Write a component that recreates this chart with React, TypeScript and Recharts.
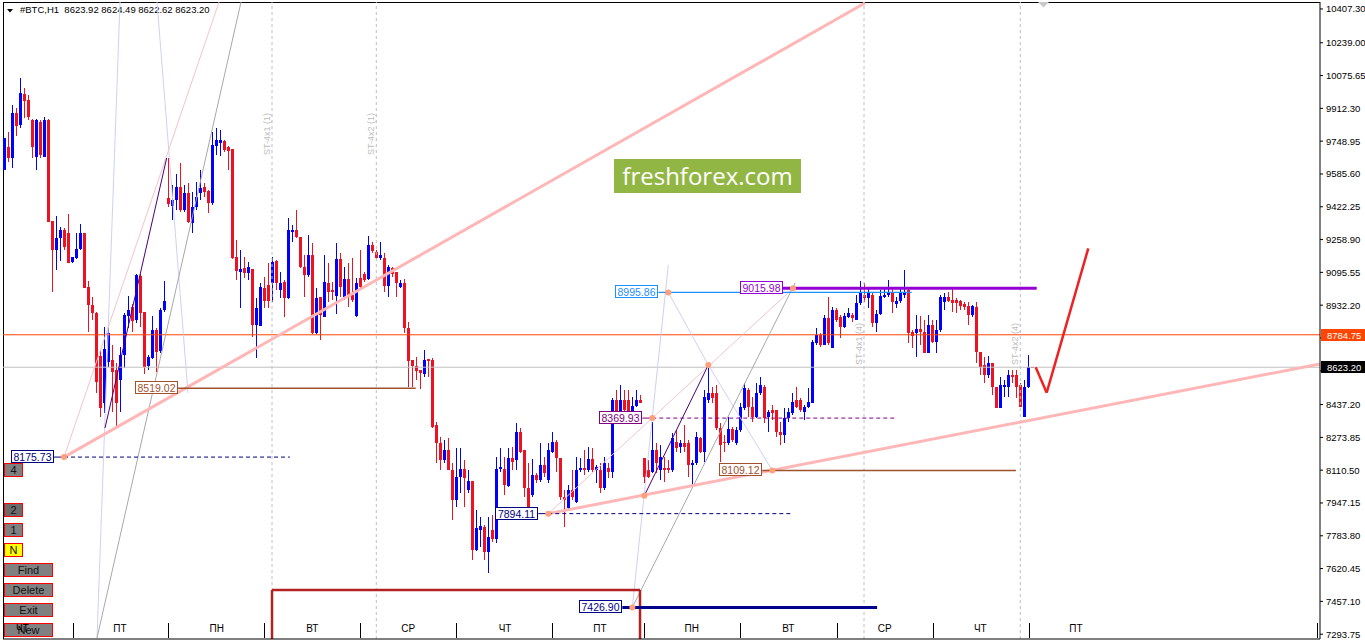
import React from 'react';
import { ComposedChart, Bar, XAxis, YAxis, ReferenceLine, ReferenceDot } from 'recharts';

const FONT = '"Liberation Sans", Arial, sans-serif';
const W = 1365;
const H = 641;
const BLUE = '#0000FF';
const RED = '#EE1122';

const X_DOMAIN: [number, number] = [-0.325, 328.925];
const Y_DOMAIN: [number, number] = [7269.8, 10442.0];

// [open, high, low, close] per H1 candle
const candles: [number, number, number, number][] = [
  [9605, 9765, 9605, 9763], [9721, 9796, 9647, 9663], [9667, 9929, 9617, 9888], [9891, 9912, 9775, 9824],
  [9829, 10062, 9813, 9987], [9984, 10012, 9863, 9951], [9954, 9979, 9854, 9871], [9854, 9860, 9663, 9722],
  [9672, 9860, 9605, 9854], [9846, 9854, 9663, 9680], [9672, 9871, 9668, 9854], [9854, 9859, 9345, 9348],
  [9351, 9351, 8999, 9207], [9207, 9376, 9107, 9265], [9265, 9323, 9152, 9307], [9307, 9315, 9207, 9224],
  [9290, 9386, 9141, 9141], [9149, 9174, 9144, 9170], [9166, 9290, 9161, 9212], [9212, 9335, 9207, 9290],
  [9290, 9293, 9016, 9016], [9021, 9053, 8800, 8933], [8933, 8975, 8858, 8892], [8895, 8900, 8493, 8548],
  [8681, 8709, 8377, 8418], [8443, 8825, 8393, 8712], [8651, 8825, 8626, 8792], [8659, 8734, 8402, 8601],
  [8609, 8642, 8319, 8443], [8560, 8726, 8402, 8684], [8684, 8891, 8618, 8883], [8878, 8978, 8817, 8908],
  [8922, 8938, 8800, 8855], [8858, 9087, 8842, 9082], [9077, 9087, 8825, 8895], [8900, 8900, 8590, 8626],
  [8629, 8684, 8609, 8672], [8667, 8878, 8662, 8808], [8808, 8817, 8601, 8701], [8706, 8916, 8692, 8908],
  [8908, 9054, 8900, 8955],
  [9468, 9665, 9423, 9434], [9426, 9531, 9356, 9456], [9456, 9585, 9406, 9519], [9519, 9642, 9398, 9406],
  [9406, 9531, 9398, 9489], [9493, 9539, 9340, 9345], [9340, 9497, 9290, 9423], [9423, 9547, 9406, 9469],
  [9489, 9605, 9456, 9514], [9519, 9542, 9473, 9497], [9502, 9506, 9390, 9439], [9439, 9796, 9431, 9730],
  [9725, 9813, 9680, 9755], [9738, 9805, 9675, 9755], [9751, 9755, 9697, 9705], [9718, 9725, 9605, 9702],
  [9708, 9712, 9160, 9166], [9174, 9257, 9058, 9102], [9099, 9207, 8917, 9112], [9116, 9174, 9066, 9091],
  [9091, 9149, 9058, 9124], [9111, 9111, 8775, 8834], [8834, 8966, 8668, 8917], [8830, 9041, 8830, 9024],
  [9020, 9074, 8917, 8955], [9033, 9141, 8917, 8955], [9041, 9174, 8950, 9149], [9152, 9157, 9008, 9041],
  [9008, 9099, 8966, 9041], [9049, 9058, 8875, 8966], [8966, 9365, 8961, 9307], [9298, 9332, 9248, 9307],
  [9307, 9406, 9265, 9273], [9273, 9273, 9116, 9124], [9124, 9182, 8975, 9083], [9083, 9282, 9074, 9182],
  [9182, 9240, 8789, 8792], [8792, 9016, 8789, 8966], [8971, 8971, 8759, 8883], [8875, 9182, 8872, 9049],
  [9045, 9141, 8950, 9000], [9008, 9049, 8958, 9000], [8980, 9240, 8890, 9161], [9161, 9190, 8975, 9021],
  [8975, 9124, 8958, 9063], [9063, 9141, 8925, 8975], [8983, 9165, 8950, 8958], [8878, 9066, 8875, 9044],
  [9066, 9207, 9008, 9021], [9087, 9099, 9049, 9058], [9063, 9277, 9058, 9232], [9232, 9248, 9190, 9204],
  [9199, 9207, 9161, 9166], [9166, 9248, 9157, 9182], [9166, 9190, 9000, 9028], [9028, 9132, 8975, 9124],
  [9116, 9124, 9074, 9087], [9099, 9099, 8975, 9044], [9021, 9058, 9016, 9041], [9041, 9061, 8792, 8817],
  [8817, 8850, 8526, 8656], [8659, 8659, 8526, 8631], [8631, 8676, 8560, 8606], [8609, 8609, 8513, 8596],
  [8590, 8709, 8576, 8659], [8663, 8663, 8576, 8656], [8659, 8668, 8319, 8327], [8335, 8352, 8145, 8244],
  [8244, 8277, 8111, 8161], [8161, 8261, 8145, 8211], [8211, 8269, 8111, 8111], [8111, 8145, 7862, 7962],
  [7962, 8219, 7929, 8078], [8078, 8219, 7995, 8115], [8115, 8161, 7929, 8070], [8012, 8111, 7995, 8058],
  [8058, 8058, 7663, 7713], [7713, 7912, 7710, 7821], [7812, 7879, 7730, 7833], [7829, 7838, 7663, 7705],
  [7705, 7879, 7597, 7779], [7812, 7887, 7754, 7766], [7766, 8178, 7746, 8115], [8115, 8219, 8099, 8128],
  [8115, 8178, 7987, 8037], [8032, 8219, 8028, 8169], [8169, 8227, 8111, 8153], [8161, 8344, 8111, 8302],
  [8302, 8319, 8194, 8203], [8211, 8211, 7978, 8020], [8020, 8145, 7895, 7912], [7987, 8165, 7978, 8087],
  [8087, 8095, 8045, 8062], [8062, 8244, 8053, 8136], [8136, 8178, 8078, 8095], [8062, 8244, 8045, 8211],
  [8203, 8302, 8194, 8253], [8253, 8261, 8103, 8170], [8170, 8170, 7962, 7978], [7978, 8012, 7829, 7962],
  [7920, 8037, 7912, 8012], [8012, 8111, 7962, 7978], [7953, 8178, 7945, 8111], [8111, 8170, 8103, 8120],
  [8120, 8211, 8087, 8111], [8111, 8228, 8103, 8165], [8165, 8219, 8103, 8111], [8111, 8136, 8045, 8128],
  [8111, 8145, 7995, 8020], [8020, 8178, 8012, 8145], [8120, 8145, 8070, 8103], [8103, 8468, 8070, 8460],
  [8460, 8510, 8360, 8369], [8369, 8535, 8360, 8460], [8460, 8510, 8402, 8410], [8460, 8510, 8377, 8385],
  [8385, 8477, 8377, 8431], [8431, 8510, 8427, 8460], [8460, 8485, 8443, 8447],
  [8170, 8170, 8045, 8078], [8111, 8161, 8070, 8078], [8103, 8348, 8095, 8211], [8211, 8244, 8095, 8145],
  [8111, 8236, 8061, 8178], [8120, 8178, 8053, 8111], [8120, 8161, 8095, 8111], [8111, 8294, 8103, 8269],
  [8252, 8311, 8203, 8219], [8228, 8261, 8194, 8244], [8244, 8335, 8203, 8228], [8244, 8261, 8078, 8136],
  [8136, 8161, 8037, 8145], [8145, 8302, 8136, 8277], [8269, 8277, 8194, 8203], [8203, 8510, 8153, 8477],
  [8460, 8626, 8443, 8493], [8493, 8526, 8443, 8468], [8493, 8535, 8311, 8319], [8319, 8344, 8153, 8236],
  [8253, 8286, 8203, 8244], [8244, 8377, 8236, 8314], [8314, 8327, 8253, 8261], [8244, 8327, 8236, 8311],
  [8311, 8443, 8302, 8427], [8419, 8543, 8410, 8518], [8510, 8518, 8377, 8427], [8427, 8477, 8352, 8377],
  [8377, 8543, 8369, 8497], [8493, 8576, 8485, 8535], [8526, 8535, 8344, 8369], [8377, 8410, 8302, 8402],
  [8410, 8435, 8360, 8394], [8410, 8410, 8277, 8302], [8302, 8352, 8236, 8286], [8286, 8418, 8244, 8369],
  [8369, 8418, 8352, 8402], [8394, 8493, 8385, 8452], [8460, 8526, 8418, 8427], [8460, 8468, 8402, 8410],
  [8402, 8435, 8360, 8427], [8427, 8518, 8420, 8452], [8443, 8759, 8443, 8750], [8743, 8817, 8734, 8784],
  [8784, 8792, 8726, 8734], [8734, 8883, 8734, 8867], [8867, 8975, 8734, 8743], [8717, 8921, 8717, 8908],
  [8908, 8916, 8850, 8858], [8871, 8883, 8767, 8825], [8825, 8891, 8817, 8878], [8871, 8916, 8866, 8891],
  [8883, 8891, 8850, 8867], [8858, 8983, 8858, 8941], [8941, 9054, 8933, 8991], [8983, 9041, 8950, 8966],
  [8966, 9011, 8917, 8991], [8983, 9000, 8825, 8842], [8842, 8908, 8800, 8888], [8888, 9008, 8883, 8978],
  [8975, 9016, 8966, 8983], [8983, 9058, 8975, 9000], [9000, 9016, 8892, 8950], [8938, 8975, 8917, 8955],
  [8955, 9016, 8941, 8991], [8983, 9107, 8966, 9000], [9008, 9011, 8746, 8792], [8800, 8809, 8717, 8779],
  [8792, 8883, 8676, 8812], [8812, 8878, 8734, 8800], [8800, 8858, 8692, 8696], [8696, 8883, 8692, 8833],
  [8833, 8858, 8742, 8750], [8750, 8858, 8696, 8809], [8809, 8983, 8800, 8975], [8950, 8995, 8908, 8975],
  [8975, 9000, 8950, 8955], [8958, 9016, 8900, 8941], [8958, 8966, 8892, 8945], [8955, 8958, 8908, 8928],
  [8938, 8950, 8908, 8921], [8928, 8950, 8834, 8883], [8883, 8933, 8875, 8928], [8925, 8950, 8643, 8701],
  [8701, 8701, 8585, 8626], [8634, 8676, 8546, 8585], [8585, 8679, 8568, 8643], [8643, 8643, 8485, 8526],
  [8526, 8526, 8418, 8418], [8418, 8576, 8418, 8535], [8526, 8560, 8477, 8535], [8526, 8609, 8477, 8585],
  [8585, 8609, 8543, 8576], [8585, 8609, 8468, 8526], [8535, 8543, 8427, 8427], [8377, 8560, 8377, 8526],
  [8526, 8684, 8518, 8623], [8623.92, 8624.49, 8622.62, 8623.2],
];

const PRICE_TICKS = [10407.3, 10239.0, 10075.65, 9912.3, 9748.95, 9585.6, 9422.25, 9258.9, 9095.55, 8932.2,
  8768.85, 8605.5, 8437.2, 8273.85, 8110.5, 7947.15, 7783.8, 7620.45, 7457.1, 7293.75];
// ticks whose labels are covered by the ask / bid price tags
const COVERED_TICKS = [8768.85, 8605.5];
const TIME_TICKS = [16, 32, 48, 64, 80, 96, 112, 128, 144, 160, 176, 192, 208, 224, 240, 256];
const DAY_LABELS = ['ЧТ', 'ПТ', 'ПН', 'ВТ', 'СР', 'ЧТ', 'ПТ', 'ПН', 'ВТ', 'СР', 'ЧТ', 'ПТ'];
const DAY_LABEL_AT = [4.55, 28.9, 53.1, 77, 101, 125.2, 148.9, 171.85, 196, 220.1, 244, 267.9];
const DAY_SEPARATORS = [17.1, 41, 65, 89, 113, 137, 159.9, 184, 208.05, 232.1, 256.15, 328.2];

const ASK_LEVEL = 8784.75;
const BID_LEVEL = 8623.2;

// horizontal levels: price, anchor candle, end candle
const LEVELS = [
  { price: 8175.73, at: 14.93, end: 71.4, color: '#000080', dash: true, w: 1 },
  { price: 8519.02, at: 45.93, end: 102.85, color: '#A0522D', dash: false, w: 1.5 },
  { price: 7894.11, at: 136, end: 196.85, color: '#000080', dash: true, w: 1 },
  { price: 8369.93, at: 162, end: 222.7, color: '#800080', dash: true, w: 1 },
  { price: 8109.12, at: 192, end: 252.9, color: '#A0522D', dash: false, w: 1.5 },
  { price: 8995.86, at: 166, end: 226.85, color: '#1E90FF', dash: false, w: 1.3 },
  { price: 9015.98, at: 197.18, end: 258.1, color: '#9400D3', dash: false, w: 3 },
  { price: 7426.9, at: 157, end: 218.2, color: '#00008B', dash: false, w: 3 },
];

// trend / pattern lines: [candleFrom, priceFrom, candleTo, priceTo]
const TREND_THICK: [number, number, number, number][] = [
  [14.93, 8175.73, 215.18, 10437],
  [136, 7894.11, 328.9, 8639.3],
];
const PINK_THIN: [number, number, number, number][] = [
  [14.93, 8175.73, 53.68, 10442],
  [136, 7894.11, 197.18, 9015.98],
];
const LAVENDER: [number, number, number, number][] = [
  [28.93, 10442, 23.18, 7275],
  [38.18, 10442, 45.93, 8495],
  [166, 9132, 157, 7426.9],
  [166, 8995.86, 176, 8634],
  [176, 8634, 192, 8109.12],
];
const DARK_PURPLE: [number, number, number, number][] = [
  [25.18, 8320.6, 40.6, 9665],
  [160, 7983.4, 176, 8634],
];
const GRAY_THIN: [number, number, number, number][] = [
  [23.18, 7275, 59.18, 10442],
  [157, 7426.9, 197.7, 9042.7],
];
const PIVOTS: [number, number][] = [
  [14.93, 8175.73], [136, 7894.11], [160, 7983.4], [162, 8369.93], [166, 8995.86],
  [176, 8634], [192, 8109.12], [197.18, 9015.98], [157, 7426.9],
];
const FORECAST: [number, number][] = [[257.85, 8623], [260.6, 8496.4], [271.0, 9215.5]];
const BOX_LEFT = 66.93;
const BOX_RIGHT = 158.93;
const BOX_TOP = 7513.8;

const SESSION_LINES = [
  { at: 66.93, text: 'ST-4x1 (1)', base: 9680 },
  { at: 93, text: 'ST-4x2 (1)', base: 9680 },
  { at: 214.93, text: 'ST-4x1 (4)', base: 8634 },
  { at: 254, text: 'ST-4x2 (4)', base: 8634 },
];

const BUTTONS = [
  { text: '4', top: 463, w: 19, bg: '#808080' },
  { text: '2', top: 503, w: 19, bg: '#6B6B6B' },
  { text: '1', top: 523, w: 19, bg: '#808080' },
  { text: 'N', top: 543, w: 19, bg: '#FFFF00' },
  { text: 'Find', top: 563, w: 49, bg: '#808080' },
  { text: 'Delete', top: 583, w: 49, bg: '#808080' },
  { text: 'Exit', top: 603, w: 49, bg: '#808080' },
  { text: 'New', top: 623, w: 49, bg: '#808080' },
];

const data = candles.map((c, i) => ({ i, o: c[0], h: c[1], l: c[2], c: c[3] }));

const CandleShape = (props: any) => {
  const { x, y, width, height, payload } = props;
  if (!payload || x == null || y == null) return null;
  const { o, h, l, c } = payload;
  const yTop = Math.min(y, y + height);
  const hh = Math.abs(height);
  const cx = Math.round(x + width / 2) + 0.5;
  const k = h > l ? hh / (h - l) : 0;
  const py = (v: number) => yTop + (h - v) * k;
  const col = c >= o ? BLUE : RED;
  const top = py(Math.max(o, c));
  const bot = py(Math.min(o, c));
  return (
    <g shapeRendering="crispEdges">
      <line x1={cx} x2={cx} y1={yTop} y2={yTop + Math.max(hh, 1)} stroke={col} strokeWidth={1} />
      <rect x={cx - 1.5} y={top} width={3} height={Math.max(bot - top, 1)} fill={col} />
    </g>
  );
};

const DayTick = (props: any) => {
  const { x, payload } = props;
  const v = payload && payload.value;
  const li = DAY_LABEL_AT.indexOf(v);
  if (li >= 0) {
    return (
      <text x={x} y={632} textAnchor="middle" fontSize={10} fontFamily={FONT} fill="#000">
        {DAY_LABELS[li]}
      </text>
    );
  }
  const xx = Math.round(x) + 0.5;
  return <line x1={xx} x2={xx} y1={623} y2={638} stroke="#000" strokeWidth={1} />;
};

const PriceTick = (props: any) => {
  const { x, y, payload } = props;
  const v = payload && payload.value;
  if (COVERED_TICKS.indexOf(v) >= 0) return null;
  return (
    <text x={x} y={y} dy="0.355em" fontSize={9.5} fontFamily={FONT} fill="#000" textAnchor="start">
      {Number(v).toFixed(2)}
    </text>
  );
};

const levelTag = (text: string, color: string) => (p: any) => {
  const cx = Math.round(p.cx);
  const cy = Math.round(p.cy);
  return (
    <g>
      <rect x={cx - 52.5} y={cy - 6.5} width={42} height={12} fill="#fff" stroke={color} strokeWidth={1} />
      <text x={cx - 31.5} y={cy + 3.5} textAnchor="middle" fontSize={10.5} fontFamily={FONT} fill={color}>
        {text}
      </text>
    </g>
  );
};

const priceTag = (text: string, bg: string) => (p: any) => {
  const cx = Math.round(p.cx);
  const cy = Math.round(p.cy);
  return (
    <g>
      <rect x={cx + 1} y={cy - 6} width={45} height={12} fill={bg} />
      <text x={cx + 7} y={cy + 3.5} fontSize={9.5} fontFamily={FONT} fill="#fff">
        {text}
      </text>
    </g>
  );
};

const sessionText = (text: string) => (p: any) => {
  const bx = Math.round(p.cx) - 2;
  const by = Math.round(p.cy);
  return (
    <text x={bx} y={by} transform={`rotate(-90 ${bx} ${by})`} fontSize={9} fontFamily={FONT} fill="#BDBDBD">
      {text}
    </text>
  );
};

const seg = (a: [number, number, number, number], stroke: string, w: number, key: string, dash?: string) => (
  <ReferenceLine
    key={key}
    segment={[{ x: a[0], y: a[1] }, { x: a[2], y: a[3] }]}
    stroke={stroke}
    strokeWidth={w}
    strokeDasharray={dash}
    ifOverflow="visible"
  />
);

export default function App() {
  return (
    <div style={{ position: 'absolute', left: 0, top: 0, width: W, height: H, background: '#fff', overflow: 'hidden', fontFamily: FONT }}>
      <div style={{ position: 'absolute', left: 3, top: 2, width: 1317, height: 637, borderLeft: '1px solid #000', borderTop: '1px solid #000', boxSizing: 'border-box' }} />
      <svg style={{ position: 'absolute', left: 0, top: 0 }} width={W} height={30}>
        <polygon points="7,9 13,9 10,12.5" fill="#000" />
        <text x={20} y={13} fontSize={9.5} fontFamily={FONT} fill="#000" xmlSpace="preserve">
          #BTC,H1  8623.92 8624.49 8622.62 8623.20
        </text>
        <polygon points="1038,2 1049,2 1043.5,7.5" fill="#C8C8C8" />
      </svg>
      {BUTTONS.map((b) => (
        <div
          key={b.text}
          style={{
            position: 'absolute', left: 4, top: b.top, width: b.w, height: 14, boxSizing: 'border-box',
            border: '1px solid #FF0000', background: b.bg, color: '#111', fontSize: 11, lineHeight: '12px',
            textAlign: 'center', fontFamily: FONT,
          }}
        >
          {b.text}
        </div>
      ))}
      <div
        style={{
          position: 'absolute', left: 614, top: 159, width: 187, height: 34, background: '#92B644', color: '#fff',
          fontFamily: '"Open Sans", sans-serif', fontSize: 24, lineHeight: '34px', textAlign: 'center',
        }}
      >
        freshforex.com
      </div>
      <div style={{ position: 'absolute', left: 0, top: 0 }}>
        <ComposedChart width={W} height={H} data={data} margin={{ top: 2, right: 0, bottom: 0, left: 3 }}>
          <XAxis
            dataKey="i"
            type="number"
            domain={X_DOMAIN}
            allowDataOverflow
            ticks={TIME_TICKS}
            interval={0}
            tick={false}
            tickSize={2}
            height={1}
            axisLine={{ stroke: '#000' }}
            tickLine={{ stroke: '#000' }}
          />
          <XAxis
            xAxisId="days"
            dataKey="i"
            type="number"
            domain={X_DOMAIN}
            allowDataOverflow
            ticks={[...DAY_SEPARATORS, ...DAY_LABEL_AT]}
            interval={0}
            tick={(p: any) => <DayTick {...p} />}
            tickLine={false}
            axisLine={false}
            height={1}
          />
          <YAxis
            orientation="right"
            type="number"
            domain={Y_DOMAIN}
            allowDataOverflow
            ticks={PRICE_TICKS}
            interval={0}
            width={45}
            tickSize={3}
            tickMargin={3}
            tick={(p: any) => <PriceTick {...p} />}
            axisLine={{ stroke: '#000' }}
            tickLine={{ stroke: '#000' }}
          />

          {SESSION_LINES.map((s) => (
            <ReferenceLine key={'v' + s.at} x={s.at} stroke="#BEBEBE" strokeDasharray="3 3" ifOverflow="visible" />
          ))}

          <Bar dataKey={(d: any) => [d.l, d.h]} barSize={3} shape={CandleShape} isAnimationActive={false} />

          <ReferenceLine y={BID_LEVEL} stroke="#C0C0C0" strokeWidth={1} ifOverflow="visible" />
          <ReferenceLine y={ASK_LEVEL} stroke="#FF4500" strokeWidth={1} ifOverflow="visible" />

          {SESSION_LINES.map((s) => (
            <ReferenceDot key={'t' + s.at} x={s.at} y={s.base} r={0} ifOverflow="visible" shape={sessionText(s.text)} />
          ))}

          {LAVENDER.map((a, k) => seg(a, '#D0D0F5', 1, 'lav' + k))}
          {GRAY_THIN.map((a, k) => seg(a, '#A8A8A8', 1, 'gr' + k))}
          {PINK_THIN.map((a, k) => seg(a, '#F2C4CC', 1, 'pt' + k))}
          {DARK_PURPLE.map((a, k) => seg(a, '#4B0072', 1, 'dp' + k))}
          {TREND_THICK.map((a, k) => seg(a, '#FFB6B6', 3, 'tt' + k))}

          {seg([BOX_LEFT, Y_DOMAIN[0], BOX_LEFT, BOX_TOP], '#B22222', 2.5, 'bx1')}
          {seg([BOX_LEFT, BOX_TOP, BOX_RIGHT, BOX_TOP], '#B22222', 2.5, 'bx2')}
          {seg([BOX_RIGHT, BOX_TOP, BOX_RIGHT, Y_DOMAIN[0]], '#B22222', 2.5, 'bx3')}

          {LEVELS.map((lv, k) =>
            lv.dash
              ? [
                  seg([lv.at - 2.5, lv.price, lv.at, lv.price], lv.color, lv.w, 'ls' + k),
                  seg([lv.at, lv.price, lv.end, lv.price], lv.color, lv.w, 'ld' + k, '4 3'),
                ]
              : seg([lv.at - 2.5, lv.price, lv.end, lv.price], lv.color, lv.w, 'lf' + k)
          )}

          {FORECAST.slice(1).map((p, k) =>
            seg([FORECAST[k][0], FORECAST[k][1], p[0], p[1]], '#EE2222', 2.5, 'fc' + k)
          )}

          {PIVOTS.map((p, k) => (
            <ReferenceDot key={'pv' + k} x={p[0]} y={p[1]} r={3} fill="#FFA07A" stroke="none" ifOverflow="visible" />
          ))}

          {LEVELS.map((lv, k) => (
            <ReferenceDot
              key={'tag' + k}
              x={lv.at}
              y={lv.price}
              r={0}
              ifOverflow="visible"
              shape={levelTag(lv.price.toFixed(2), lv.color)}
            />
          ))}

          <ReferenceDot x={X_DOMAIN[1]} y={ASK_LEVEL} r={0} ifOverflow="visible" shape={priceTag('8784.75', '#FF4500')} />
          <ReferenceDot x={X_DOMAIN[1]} y={BID_LEVEL} r={0} ifOverflow="visible" shape={priceTag('8623.20', '#000')} />
        </ComposedChart>
      </div>
    </div>
  );
}
